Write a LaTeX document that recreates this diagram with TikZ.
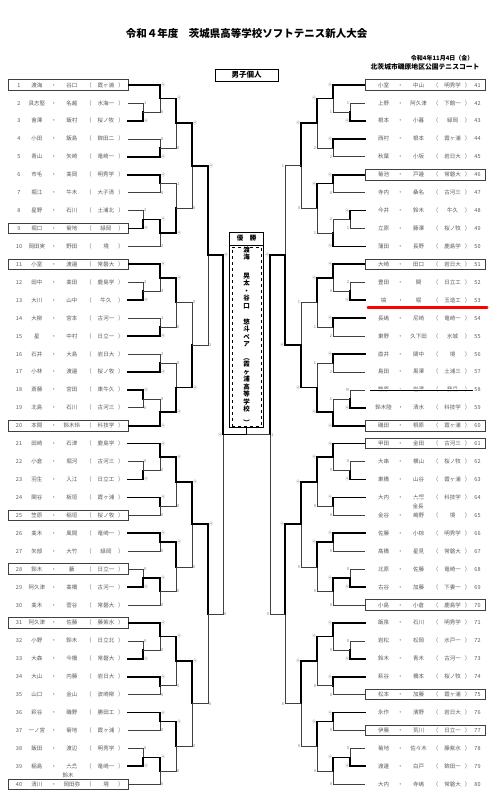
\documentclass[tikz,border=0pt]{standalone}
\usepackage{fontspec}
\setmainfont{Noto Sans CJK JP}
\usetikzlibrary{calc,positioning}

% one match: sides #1,#2 meet at column #4, result point #3, scores #5/#6
\def\winmark{4}
\newcommand\duel[6]{%
  \path ($(#1)!0.5!(#2)$) coordinate (mid);
  \coordinate (#3) at (mid -| #4);
  \def\sca{#5}\def\scb{#6}%
  \ifx\sca\winmark
    \draw[lost] (#2) -| (#3);
    \draw[won] (#1) -| (#3);
  \else
    \draw[lost] (#1) -| (#3);
    \draw[won] (#2) -| (#3);
  \fi
  \node[score] (#3a) at (#1 -| #4) {\ifx\sca\winmark ④\else #5\fi};
  \node[score] (#3b) at (#2 -| #4) {\ifx\scb\winmark ④\else #6\fi};
}
\def\duelp#1#2#3#4#5{\splitpair#5\relax{#1}{#2}{#3}{#4}}
\def\splitpair#1/#2\relax#3#4#5#6{\duel{#3}{#4}{#5}{#6}{#1}{#2}}

% a block of ten entries (side \qside, first entry \qbase+1)
\newcommand\bracketq[9]{%
  \edef\qA{\qside\the\numexpr\qbase+1\relax}\edef\qB{\qside\the\numexpr\qbase+2\relax}%
  \edef\qC{\qside\the\numexpr\qbase+3\relax}\edef\qD{\qside\the\numexpr\qbase+4\relax}%
  \edef\qE{\qside\the\numexpr\qbase+5\relax}\edef\qF{\qside\the\numexpr\qbase+6\relax}%
  \edef\qG{\qside\the\numexpr\qbase+7\relax}\edef\qH{\qside\the\numexpr\qbase+8\relax}%
  \edef\qI{\qside\the\numexpr\qbase+9\relax}\edef\qJ{\qside\the\numexpr\qbase+10\relax}%
  \edef\mq{\qside q\qbase m}%
  \edef\cA{\qside c1}\edef\cB{\qside c2}\edef\cC{\qside c3}\edef\cD{\qside c4}%
  \duelp{\qB}{\qC}{\mq1}{\cA}{#1}%
  \duelp{\qA}{\mq1}{\mq2}{\cB}{#2}%
  \duelp{\qD}{\qE}{\mq3}{\cB}{#3}%
  \duelp{\mq2}{\mq3}{\mq7}{\cC}{#4}%
  \duelp{\qF}{\qG}{\mq4}{\cB}{#5}%
  \duelp{\qH}{\qI}{\mq5}{\cA}{#6}%
  \duelp{\mq5}{\qJ}{\mq6}{\cB}{#7}%
  \duelp{\mq4}{\mq6}{\mq8}{\cC}{#8}%
  \duelp{\mq7}{\mq8}{\mq9}{\cD}{#9}%
}

\begin{document}
\begin{tikzpicture}[x=1pt, y=-1pt,
  entry/.style={minimum width=120pt, minimum height=10.5pt, inner sep=0pt,
    font=\fontsize{5.5}{6}\selectfont, text=black!65},
  seedbox/.style={draw=black!75, line width=0.8pt},
  nobox/.style={},
  won/.style={line width=1.7pt, line cap=rect},
  lost/.style={line width=0.5pt, black!75},
  scoreL/.style={anchor=west, inner sep=0.8pt, font=\fontsize{4}{4}\selectfont, text=black!55},
  scoreR/.style={scoreL, anchor=east},
  score/.style={scoreL},
  tate/.style={align=center, inner sep=0pt, font=\bfseries\fontsize{6.5}{7.5}\selectfont},
  strike/.style={double, double distance=0.7pt, line width=0.35pt},
]
\useasboundingbox (0,0) rectangle (489,800);

% heading
\node[font=\bfseries\fontsize{10.5}{12}\selectfont] (title) at (246.5,33) {令和４年度　茨城県高等学校ソフトテニス新人大会};
\node[anchor=east, font=\bfseries\fontsize{6}{7}\selectfont] (date) at (477,58) {令和4年11月4日（金）};
\node[anchor=east, font=\bfseries\fontsize{6.8}{7}\selectfont] (venue) at (483,67) {北茨城市磯原地区公園テニスコート};
\node[draw, line width=0.8pt, minimum width=63pt, minimum height=12pt, inner sep=0pt,
  font=\bfseries\fontsize{7.5}{8}\selectfont] (event) at (246.5,75) {男子個人};
\draw[lost] (8,79) -- (128,79);
\draw[lost] (365,79) -- (484,79);

% columns
\foreach \i/\xl/\xr in {1/143/350, 2/160/333, 3/176/317, 4/192/301, 5/208/285, 6/223/270}{
  \coordinate (Lc\i) at (\xl,0);
  \coordinate (Rc\i) at (\xr,0);
}

% left entries
\foreach \n/\a/\b/\s/\k in {
  1/渡海/谷口/霞ヶ浦/seedbox, 2/具志堅/名越/水海一/nobox, 3/會澤/飯村/桜ノ牧/nobox,
  4/小田/飯島/鉾田二/nobox, 5/青山/矢崎/竜崎一/nobox, 6/市毛/髙岡/明秀学/nobox,
  7/堀江/牛木/大子清/nobox, 8/星野/石川/土浦北/nobox, 9/堀口/菊地/緑岡/seedbox,
  10/岡田実/野田/境/nobox, 11/小室/渡邉/常磐大/seedbox, 12/田中/髙田/鹿島学/nobox,
  13/大川/山中/牛久/nobox, 14/大柳/宮本/古河一/nobox, 15/星/中村/日立一/nobox,
  16/石井/大島/岩日大/nobox, 17/小林/渡邉/桜ノ牧/nobox, 18/斎藤/宮田/東牛久/nobox,
  19/北島/石川/古河三/nobox, 20/本間/鈴木玲/科技学/seedbox, 21/田崎/石津/鹿島学/nobox,
  22/小倉/堀河/古河三/nobox, 23/羽生/入江/日立工/nobox, 24/関谷/板垣/霞ヶ浦/nobox,
  25/笠原/稲垣/桜ノ牧/seedbox, 26/髙木/風間/竜崎一/nobox, 27/矢部/大竹/緑岡/nobox,
  28/鈴木/藪/日立一/seedbox, 29/阿久津/髙橋/古河一/nobox, 30/髙木/菅谷/常磐大/nobox,
  31/阿久津/佐藤/藤紫水/seedbox, 32/小野/鈴木/日立北/nobox, 33/大森/今橋/常磐大/nobox,
  34/大山/内藤/岩日大/nobox, 35/山口/金山/波崎柳/nobox, 36/萩谷/磯野/勝田工/nobox,
  37/一ノ宮/菊地/霞ヶ浦/nobox, 38/飯田/渡辺/明秀学/nobox, 39/稲島/大島/竜崎一/nobox,
  40/清川/岡田弥/境/seedbox}{
  \pgfmathsetmacro\yy{85+(\n-1)*17.93}
  \node[entry,\k] (L\n) at (68,\yy) {\makebox[14pt]{\n}\makebox[22pt]{\a}\makebox[12pt]{・}%
    \makebox[24pt]{\b}\makebox[10pt]{（}\makebox[24pt]{\s}\makebox[6pt]{）}\hspace{8pt}};
}

% right entries
\foreach \n/\a/\b/\s/\k in {
  41/小室/中山/明秀学/seedbox, 42/上野/阿久津/下館一/nobox, 43/根本/小暮/緑岡/nobox,
  44/西村/根本/霞ヶ浦/nobox, 45/秋葉/小坂/岩日大/nobox, 46/菊池/戸邉/常磐大/seedbox,
  47/寺内/桑名/古河三/nobox, 48/今井/鈴木/牛久/nobox, 49/立原/藤澤/桜ノ牧/nobox,
  50/蒲田/長野/鹿島学/nobox, 51/大崎/田口/岩日大/seedbox, 52/豊田/関/日立工/nobox,
  53/塙/堀/玉造工/nobox, 54/長嶋/尼崎/竜崎一/nobox, 55/東野/久下田/水城/nobox,
  56/直井/関中/境/nobox, 57/島田/黒澤/土浦三/nobox, 58/篠原/岩澤/藤岳/nobox,
  59/鈴木陸/清水/科技学/nobox, 60/磯田/桐原/霞ヶ浦/seedbox, 61/甲田/金田/古河三/seedbox,
  62/大串/横山/桜ノ牧/nobox, 63/東橋/山谷/霞ヶ浦/nobox, 64/大内/大塚/科技学/nobox,
  65/金谷/嶋野/境/nobox, 66/佐藤/小椋/明秀学/nobox, 67/髙橋/星見/常磐大/nobox,
  68/北原/佐藤/竜崎一/nobox, 69/古谷/加藤/下妻一/nobox, 70/小島/小倉/鹿島学/seedbox,
  71/飯泉/石川/明秀学/nobox, 72/岩松/松岡/水戸一/nobox, 73/鈴木/青木/古河一/nobox,
  74/萩谷/橋本/桜ノ牧/nobox, 75/松本/加藤/霞ヶ浦/seedbox, 76/永作/濱野/岩日大/nobox,
  77/伊藤/荒川/日立一/seedbox, 78/菊地/佐々木/藤紫水/nobox, 79/渡邊/白戸/鉾田一/nobox,
  80/大内/寺嶋/常磐大/nobox}{
  \pgfmathsetmacro\yy{85+(\n-41)*17.93}
  \node[entry,\k] (R\n) at (425,\yy) {\hspace{7pt}\makebox[22pt]{\a}\makebox[12pt]{・}%
    \makebox[24pt]{\b}\makebox[10pt]{（}\makebox[24pt]{\s}\makebox[6pt]{）}\makebox[14pt]{\n}};
}

% corrections on the sheet
\draw[strike] ([xshift=48pt]L39.west) -- ++(24,0);
\node[entry, minimum width=0pt] (L39new) at (68,775.3) {鈴木};
\draw[strike] ([xshift=5pt]R58.west) -- ([xshift=-12pt]R58.east);
\draw[strike] ([xshift=41pt]R64.west) -- ++(24,0);
\node[entry, minimum width=0pt] (R64new) at (418,506) {金長};
\draw[red, line width=2.5pt, line cap=round] ([xshift=3pt,yshift=-2pt]R53.south west) -- ([xshift=2pt,yshift=-2pt]R53.south east);

% left half
\def\qside{L}
\def\qbase{0}\bracketq{1/4}{4/0}{0/4}{4/0}{4/0}{2/4}{4/2}{1/4}{4/0}
\def\qbase{10}\bracketq{2/4}{4/3}{1/4}{4/0}{2/4}{4/0}{0/4}{0/4}{0/4}
\def\qbase{20}\bracketq{0/4}{4/0}{4/0}{4/0}{4/0}{0/4}{4/0}{4/0}{4/0}
\def\qbase{30}\bracketq{0/4}{4/0}{4/0}{4/0}{4/0}{0/4}{4/0}{4/0}{4/0}
\duelp{Lq0m9}{Lq10m9}{Ls1}{Lc5}{4/1}
\duelp{Lq20m9}{Lq30m9}{Ls2}{Lc5}{4/0}
\duelp{Ls1}{Ls2}{Lf}{Lc6}{4/0}

% right half
\begin{scope}[score/.style={scoreR}]
\def\qside{R}
\def\qbase{40}\bracketq{1/4}{4/1}{4/2}{4/2}{4/0}{4/1}{2/4}{4/1}{4/3}
\def\qbase{50}\bracketq{2/4}{4/0}{4/2}{4/1}{4/2}{R/4}{1/4}{1/4}{1/4}
\def\qbase{60}\bracketq{0/4}{4/0}{4/0}{4/0}{4/0}{0/4}{4/0}{4/0}{4/0}
\def\qbase{70}\bracketq{0/4}{4/0}{4/0}{4/0}{4/0}{0/4}{4/0}{4/0}{4/0}
\duelp{Rq40m9}{Rq50m9}{Rs1}{Rc5}{1/4}
\duelp{Rq60m9}{Rq70m9}{Rs2}{Rc5}{4/0}
\duelp{Rs1}{Rs2}{Rf}{Rc6}{4/0}
\end{scope}

% champion
\node[draw, line width=0.9pt, minimum width=34pt, minimum height=195pt, inner sep=0pt] (champ) at (246.5,329.5) {};
\node[draw, dashed, line width=0.6pt, minimum width=29pt, minimum height=179pt, inner sep=0pt] (champin) at (246.5,336.5) {};
\draw[line width=0.9pt] (champ.north west |- 0,245) -- (champ.north east |- 0,245);
\node[font=\bfseries\fontsize{6.5}{7}\selectfont] (champhead) at (246.5,238.5) {優　勝};
\node[tate] (c1) at (246.5,253.5) {渡\\海};
\node[tate] (c2) at (246.5,291) {晃\\太\\・\\谷\\口};
\node[tate] (c3) at (246.5,325.5) {悠\\斗};
\node[tate] (c4) at (246.5,380) {ペ\\ア\\\rotatebox{-90}{（}\\霞\\ヶ\\浦\\高\\等\\学\\校\\\rotatebox{-90}{）}};
\coordinate (jn) at (champ.south |- Lf);
\draw[lost] (Rf) -- (jn);
\draw[won] (Lf) -- (jn) -- (champ.south);
\node[scoreR] (fa) at (Lf) {④};
\node[scoreL] (fb) at (Rf) {1};
\end{tikzpicture}
\end{document}
